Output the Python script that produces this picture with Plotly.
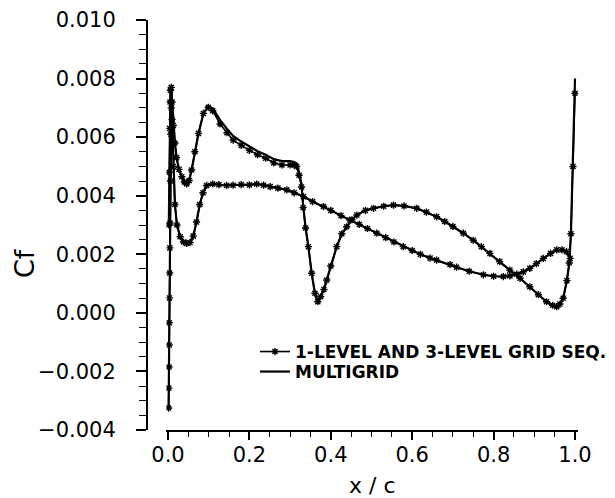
import plotly.graph_objects as go

# Skin-friction coefficient along the airfoil, leading edge -> trailing edge
# Upper surface
x_upper = [0.002, 0.003, 0.004, 0.005, 0.006, 0.008, 0.010, 0.013, 0.017, 0.021,
           0.027, 0.034, 0.040, 0.046, 0.052, 0.058, 0.066, 0.075, 0.087, 0.099,
           0.110, 0.128, 0.145, 0.160, 0.180, 0.200, 0.220, 0.240, 0.260, 0.280,
           0.300, 0.310, 0.316, 0.322, 0.328, 0.332, 0.338, 0.345, 0.353, 0.361,
           0.368, 0.375, 0.383, 0.390, 0.400, 0.4145, 0.427, 0.439, 0.452, 0.464,
           0.485, 0.505, 0.530, 0.554, 0.580, 0.611, 0.635, 0.660, 0.680, 0.700,
           0.7256, 0.750, 0.770, 0.791, 0.815, 0.840, 0.865, 0.889, 0.910, 0.930,
           0.945, 0.955, 0.963, 0.971, 0.980, 0.986, 0.990, 0.995, 1.000]

cf_upper_seq = [0.0030, 0.0048, 0.0063, 0.0072, 0.0076, 0.0077, 0.0072, 0.0064, 0.0058, 0.0053,
                0.0049, 0.00465, 0.00447, 0.0044, 0.00452, 0.00488, 0.0055, 0.00613, 0.00681, 0.00702,
                0.0069, 0.00645, 0.00615, 0.0059, 0.00572, 0.00555, 0.0054, 0.00528, 0.00512, 0.00505,
                0.00505, 0.00505, 0.0050, 0.0047, 0.0043, 0.0036, 0.0029, 0.00226, 0.00135, 0.00067,
                0.00038, 0.00055, 0.0008, 0.00112, 0.0016, 0.00226, 0.0027, 0.00294, 0.00318, 0.00334,
                0.0035, 0.00357, 0.00364, 0.00368, 0.00365, 0.00357, 0.00344, 0.00328, 0.00312, 0.00295,
                0.00272, 0.00248, 0.00226, 0.00203, 0.00175, 0.00146, 0.00118, 0.00089, 0.00062, 0.00038,
                0.00026, 0.00021, 0.0003, 0.0005, 0.0011, 0.0017, 0.0027, 0.0050, 0.0075]

cf_upper_mg = [0.0030, 0.0048, 0.0063, 0.0072, 0.0076, 0.0077, 0.0072, 0.0064, 0.0058, 0.0053,
               0.0049, 0.00465, 0.00447, 0.0044, 0.00452, 0.00488, 0.0055, 0.00613, 0.00681, 0.00705,
               0.00698, 0.00658, 0.00628, 0.00604, 0.00585, 0.00567, 0.00552, 0.0054, 0.00525, 0.00518,
               0.00518, 0.00515, 0.0051, 0.0048, 0.0044, 0.0037, 0.0029, 0.00226, 0.00135, 0.00067,
               0.00035, 0.00055, 0.0008, 0.00112, 0.0016, 0.00226, 0.0027, 0.00294, 0.00318, 0.00334,
               0.0035, 0.00357, 0.00364, 0.00368, 0.00365, 0.00357, 0.00344, 0.00328, 0.00312, 0.00295,
               0.00272, 0.00248, 0.00226, 0.00203, 0.00175, 0.00146, 0.00118, 0.00089, 0.00062, 0.00038,
               0.00026, 0.00018, 0.0003, 0.0005, 0.0011, 0.0017, 0.0027, 0.0052, 0.0080]

# Lower surface (includes the stagnation region just behind the leading edge)
x_lower = [0.0015, 0.002, 0.0025, 0.003, 0.003, 0.0035, 0.004, 0.0045, 0.005, 0.006,
           0.007, 0.008, 0.010, 0.013, 0.017, 0.022, 0.030, 0.038, 0.046, 0.054,
           0.062, 0.070, 0.078, 0.086, 0.095, 0.110, 0.125, 0.144, 0.160, 0.180,
           0.200, 0.218, 0.235, 0.251, 0.270, 0.292, 0.310, 0.333, 0.355, 0.382,
           0.400, 0.425, 0.447, 0.470, 0.490, 0.513, 0.535, 0.555, 0.578, 0.600,
           0.620, 0.644, 0.660, 0.693, 0.709, 0.740, 0.775, 0.800, 0.824, 0.840,
           0.857, 0.873, 0.889, 0.905, 0.922, 0.940, 0.955, 0.968, 0.979, 0.988]

cf_lower_seq = [-0.00325, -0.00257, -0.00185, -0.0011, -0.00034, 0.00051, 0.00136, 0.00222, 0.00307, 0.0045,
                0.0061, 0.0070, 0.0066, 0.0050, 0.0037, 0.0030, 0.0026, 0.00242, 0.00237, 0.0024,
                0.00262, 0.0031, 0.0037, 0.0041, 0.00435, 0.0044, 0.00438, 0.00435, 0.00436, 0.00438,
                0.00437, 0.0044, 0.00436, 0.00431, 0.00426, 0.0042, 0.0041, 0.00397, 0.0038, 0.00363,
                0.0035, 0.00332, 0.00317, 0.00302, 0.00288, 0.00272, 0.00257, 0.00242, 0.00226, 0.00213,
                0.0020, 0.00187, 0.0018, 0.00165, 0.00156, 0.00142, 0.0013, 0.00125, 0.00124, 0.00126,
                0.00132, 0.0014, 0.00152, 0.00168, 0.00186, 0.00203, 0.00215, 0.00215, 0.00209, 0.00186]

cf_lower_mg = list(cf_lower_seq)

SEQ_NAME = "1-LEVEL AND 3-LEVEL GRID SEQ."
MG_NAME = "MULTIGRID"

W, H = 615, 498
BLACK = "#000000"

fig = go.Figure()

# Multigrid solution: plain lines
for xs, ys, show in [(x_upper, cf_upper_mg, True), (x_lower, cf_lower_mg, False)]:
    fig.add_trace(go.Scatter(
        x=xs, y=ys, mode="lines", name=MG_NAME, legendgroup="mg", showlegend=show,
        legend="legend2", line=dict(color=BLACK, width=2.2),
    ))

# Grid-sequencing solution: lines with asterisk symbols
for xs, ys, show in [(x_upper, cf_upper_seq, True), (x_lower, cf_lower_seq, False)]:
    fig.add_trace(go.Scatter(
        x=xs, y=ys, mode="lines+markers", name=SEQ_NAME, legendgroup="seq", showlegend=show,
        legend="legend", line=dict(color=BLACK, width=1.6),
        marker=dict(symbol="asterisk-open", size=6, color=BLACK, line=dict(color=BLACK, width=1.4)),
    ))

# pixel geometry of the plotting frame
x0_px, x1_px = 168.0, 575.0          # x/c = 0 and x/c = 1
y_top_px, y_bot_px = 20.0, 430.0      # Cf = 0.010 and Cf = -0.004
x_lo, x_hi = -0.004, 1.008
y_lo, y_hi = -0.004, 0.010
ppu = (x1_px - x0_px)
x_dom = [(x0_px + x_lo * ppu) / W, (x0_px + x_hi * ppu) / W]
y_dom = [1 - y_bot_px / H, 1 - y_top_px / H]
y_pos = 147 / W

tick_font = dict(family="DejaVu Sans", size=21, color=BLACK)
legend_font = dict(family="DejaVu Sans", size=17, color=BLACK, weight="bold")

fig.update_layout(
    width=W, height=H,
    margin=dict(l=0, r=0, t=0, b=0),
    paper_bgcolor="white", plot_bgcolor="white",
    showlegend=True,
    legend=dict(x=255 / W, y=1 - 334 / H, xanchor="left", yanchor="top",
                bgcolor="rgba(0,0,0,0)", borderwidth=0, font=legend_font, itemwidth=30),
    legend2=dict(x=255 / W, y=1 - 354 / H, xanchor="left", yanchor="top",
                 bgcolor="rgba(0,0,0,0)", borderwidth=0, font=legend_font, itemwidth=30),
    xaxis=dict(
        domain=x_dom, range=[x_lo, x_hi], anchor="y",
        showgrid=False, zeroline=False, automargin=False,
        showline=True, linecolor=BLACK, linewidth=2,
        dtick=0.2, tickformat=".1f",
        ticks="outside", ticklen=8, tickwidth=1.6, tickcolor=BLACK,
        ticklabelposition="outside", ticklabelstandoff=-3, tickfont=tick_font,
        minor=dict(ticks="outside", ticklen=5, tickwidth=1.3, tickcolor=BLACK),
    ),
    yaxis=dict(
        domain=y_dom, range=[y_lo, y_hi], anchor="free", position=y_pos,
        showgrid=False, zeroline=False, automargin=False,
        showline=True, linecolor=BLACK, linewidth=2,
        dtick=0.002, tickformat=".3f",
        ticks="outside", ticklen=10, tickwidth=1.6, tickcolor=BLACK,
        ticklabelposition="outside", ticklabelstandoff=16, tickfont=tick_font,
        minor=dict(ticks="outside", ticklen=7, tickwidth=1.3, tickcolor=BLACK),
    ),
    annotations=[
        dict(text="Cf", x=24 / W, y=1 - 263 / H, xref="paper", yref="paper",
             showarrow=False, textangle=-90, xanchor="center", yanchor="middle",
             font=dict(family="DejaVu Sans", size=27, color=BLACK)),
        dict(text="x / c", x=372 / W, y=1 - 485 / H, xref="paper", yref="paper",
             showarrow=False, xanchor="center", yanchor="middle",
             font=dict(family="DejaVu Sans", size=22, color=BLACK)),
    ],
)

fig.write_html("out.html")
